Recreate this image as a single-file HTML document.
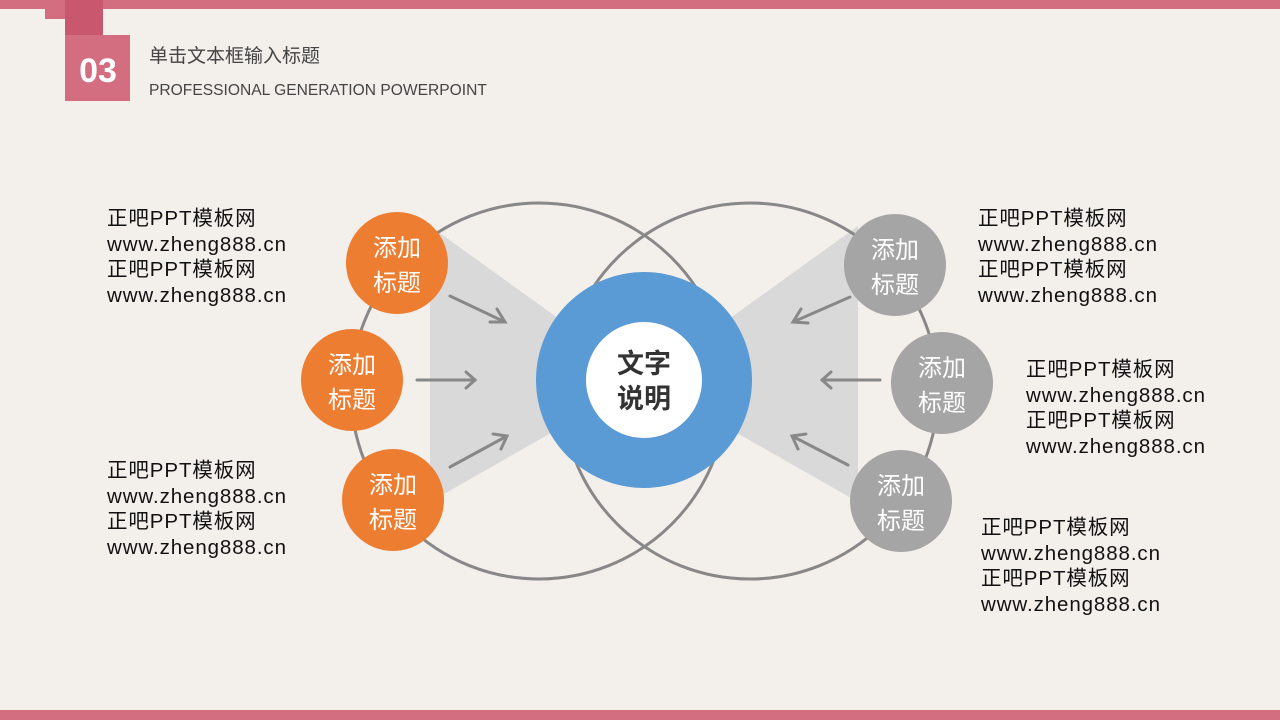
<!DOCTYPE html>
<html><head><meta charset="utf-8"><style>
body{margin:0;width:1280px;height:720px;overflow:hidden;background:#f3f0ec;font-family:"Liberation Sans","Noto Sans CJK SC",sans-serif}
.t{position:absolute;font-size:20.5px;line-height:25.6px;color:#111;white-space:nowrap;letter-spacing:0.9px}
</style></head><body>
<svg width="1280" height="720" style="position:absolute;left:0;top:0" font-family="Liberation Sans, Noto Sans CJK SC, sans-serif">
<rect x="0" y="0" width="1280" height="9" fill="#d36d80"/>
<rect x="0" y="710" width="1280" height="10" fill="#d36d80"/>
<rect x="45" y="0" width="20" height="19" fill="#d36d80"/>
<rect x="65" y="0" width="38" height="35" fill="#c9586f"/>
<rect x="65" y="35" width="65" height="66" fill="#d36d80"/>
<text x="98" y="82" font-size="34" font-weight="bold" fill="#fff" text-anchor="middle">03</text>
<text x="149" y="62" font-size="19" fill="#444">单击文本框输入标题</text>
<text x="149" y="95" font-size="15.6" fill="#444">PROFESSIONAL GENERATION POWERPOINT</text>
<polygon points="430,226 644,380 430,502" fill="#d9d9d9"/>
<polygon points="858,226 644,380 858,502" fill="#d9d9d9"/>
<circle cx="539" cy="391" r="188" fill="none" stroke="#888" stroke-width="3"/>
<circle cx="750" cy="391" r="188" fill="none" stroke="#888" stroke-width="3"/>
<circle cx="644" cy="380" r="108" fill="#5b9bd5"/>
<circle cx="644" cy="380" r="58" fill="#fff"/>
<text x="644" y="373" font-size="27" font-weight="bold" fill="#333" text-anchor="middle">文字</text>
<text x="644" y="408" font-size="27" font-weight="bold" fill="#333" text-anchor="middle">说明</text>
<g stroke="#888" stroke-width="3" fill="none" stroke-linecap="round">
<path d="M450,296 L505,322 M490,322 L505,322 L497,309"/>
<path d="M417,380 L475,380 M466,372 L475,380 L466,388"/>
<path d="M450,467 L507,436 M493,434 L507,436 L501,449"/>
<path d="M850,297 L793,322 M808,323 L793,322 L801,309"/>
<path d="M880,380 L822,380 M831,372 L822,380 L831,388"/>
<path d="M848,465 L792,436 M806,434 L792,436 L798,449"/>
</g>
<g font-size="24" fill="#fff" text-anchor="middle">
<circle cx="397" cy="263" r="51" fill="#ed7d31"/><text x="397" y="256">添加</text><text x="397" y="291">标题</text>
<circle cx="352" cy="380" r="51" fill="#ed7d31"/><text x="352" y="373">添加</text><text x="352" y="408">标题</text>
<circle cx="393" cy="500" r="51" fill="#ed7d31"/><text x="393" y="493">添加</text><text x="393" y="528">标题</text>
<circle cx="895" cy="265" r="51" fill="#a5a5a5"/><text x="895" y="258">添加</text><text x="895" y="293">标题</text>
<circle cx="942" cy="383" r="51" fill="#a5a5a5"/><text x="942" y="376">添加</text><text x="942" y="411">标题</text>
<circle cx="901" cy="501" r="51" fill="#a5a5a5"/><text x="901" y="494">添加</text><text x="901" y="529">标题</text>
</g>
</svg>
<div class="t" style="left:107px;top:206px">正吧PPT模板网<br>www.zheng888.cn<br>正吧PPT模板网<br>www.zheng888.cn</div>
<div class="t" style="left:107px;top:458px">正吧PPT模板网<br>www.zheng888.cn<br>正吧PPT模板网<br>www.zheng888.cn</div>
<div class="t" style="left:978px;top:206px">正吧PPT模板网<br>www.zheng888.cn<br>正吧PPT模板网<br>www.zheng888.cn</div>
<div class="t" style="left:1026px;top:357px">正吧PPT模板网<br>www.zheng888.cn<br>正吧PPT模板网<br>www.zheng888.cn</div>
<div class="t" style="left:981px;top:515px">正吧PPT模板网<br>www.zheng888.cn<br>正吧PPT模板网<br>www.zheng888.cn</div>
</body></html>
